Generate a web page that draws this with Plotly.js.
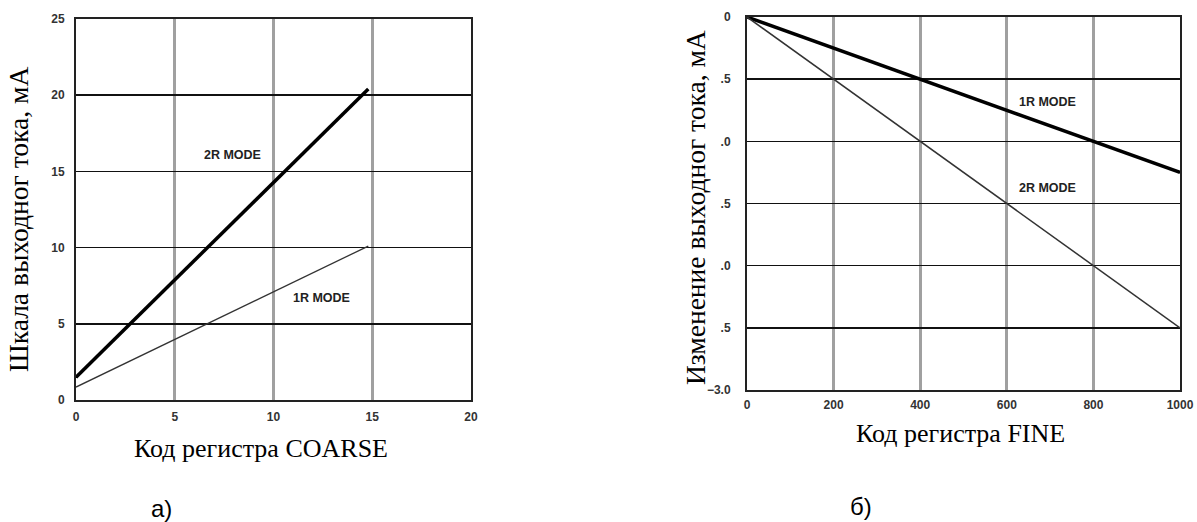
<!DOCTYPE html>
<html>
<head>
<meta charset="utf-8">
<script src="https://cdn.plot.ly/plotly-3.0.1.min.js"></script>
<style>html,body{margin:0;padding:0;background:#fff;}#chart{width:1197px;height:522px;}</style>
</head>
<body>
<div id="chart"></div>
<script>
// Left chart (а): COARSE register code vs output current full-scale, mA
const coarseX = [0, 14.8];
const coarse2R = [1.5, 20.4];
const coarse1R = [0.85, 10.1];
const coarseXTicks = [0, 5, 10, 15, 20];
const coarseYTicks = [0, 5, 10, 15, 20, 25];

// Right chart (б): FINE register code vs change of output current, mA
const fineX = [0, 1000];
const fine1R = [0, -1.25];
const fine2R = [0, -2.5];
const fineXTicks = [0, 200, 400, 600, 800, 1000];
const fineYTicks = [0, -0.5, -1.0, -1.5, -2.0, -2.5, -3.0];
const fineYTickText = ["0", ".5", ".0", ".5", ".0", ".5", "\u22123.0"];

const W = 1197, H = 522;
const px = v => v / W;
const py = v => 1 - v / H;

const tickFont = {family: "Liberation Sans, Arial, sans-serif", size: 12, color: "#333", weight: 700};
const titleFont = {family: "Liberation Serif, Times New Roman, serif", size: 26, color: "#000"};
const yTitleFont = {family: "Liberation Serif, Times New Roman, serif", size: 27.5, color: "#000"};
const modeFont = {family: "Liberation Sans, Arial, sans-serif", size: 12.5, color: "#222", weight: 700};

const traces = [
  {x: coarseX, y: coarse2R, xaxis: "x", yaxis: "y", mode: "lines", line: {color: "#000", width: 3.5}, name: "2R MODE"},
  {x: coarseX, y: coarse1R, xaxis: "x", yaxis: "y", mode: "lines", line: {color: "#333", width: 1.3}, name: "1R MODE"},
  {x: fineX, y: fine1R, xaxis: "x2", yaxis: "y2", mode: "lines", line: {color: "#000", width: 3.5}, name: "1R MODE"},
  {x: fineX, y: fine2R, xaxis: "x2", yaxis: "y2", mode: "lines", line: {color: "#333", width: 1.5}, name: "2R MODE"}
];

const xCommon = {
  showgrid: true, gridcolor: "#a0a0a0", gridwidth: 3,
  showline: true, mirror: true, linecolor: "#222", linewidth: 2,
  zeroline: false, ticks: "", tickfont: tickFont, fixedrange: true
};
const yCommon = {
  showgrid: true, gridcolor: "#111", gridwidth: 1.6,
  showline: true, mirror: true, linecolor: "#222", linewidth: 2,
  zeroline: false, ticks: "", tickfont: tickFont, fixedrange: true
};

const layout = {
  width: W, height: H,
  margin: {l: 0, r: 0, t: 0, b: 0},
  paper_bgcolor: "#fff", plot_bgcolor: "#fff",
  showlegend: false,
  xaxis: Object.assign({}, xCommon, {
    domain: [px(76), px(471)], range: [0, 20],
    tickmode: "array", tickvals: coarseXTicks, anchor: "y", ticklabelstandoff: 5
  }),
  yaxis: Object.assign({}, yCommon, {
    domain: [py(400), py(19)], range: [0, 25],
    tickmode: "array", tickvals: coarseYTicks, anchor: "x", ticklabelstandoff: 7
  }),
  xaxis2: Object.assign({}, xCommon, {
    domain: [px(747), px(1180)], range: [0, 1000],
    tickmode: "array", tickvals: fineXTicks, anchor: "y2", ticklabelstandoff: 3
  }),
  yaxis2: Object.assign({}, yCommon, {
    domain: [py(390), py(17)], range: [-3, 0],
    tickmode: "array", tickvals: fineYTicks, ticktext: fineYTickText, anchor: "x2", ticklabelstandoff: 12
  }),
  annotations: [
    {text: "Шкала выходног тока, мА", xref: "paper", yref: "paper", x: px(18), y: py(220), textangle: -90,
     showarrow: false, xanchor: "center", yanchor: "middle", font: yTitleFont},
    {text: "Код регистра COARSE", xref: "paper", yref: "paper", x: px(261), y: py(448),
     showarrow: false, xanchor: "center", yanchor: "middle", font: titleFont},
    {text: "Изменение выходног тока, мА", xref: "paper", yref: "paper", x: px(695), y: py(208), textangle: -90,
     showarrow: false, xanchor: "center", yanchor: "middle", font: yTitleFont},
    {text: "Код регистра FINE", xref: "paper", yref: "paper", x: px(960), y: py(433),
     showarrow: false, xanchor: "center", yanchor: "middle", font: titleFont},
    {text: "а)", xref: "paper", yref: "paper", x: px(161), y: py(508),
     showarrow: false, xanchor: "center", yanchor: "middle",
     font: {family: "Liberation Sans, Arial, sans-serif", size: 24, color: "#000"}},
    {text: "б)", xref: "paper", yref: "paper", x: px(861), y: py(506),
     showarrow: false, xanchor: "center", yanchor: "middle",
     font: {family: "Liberation Sans, Arial, sans-serif", size: 24, color: "#000"}},
    {text: "2R MODE", xref: "x", yref: "y", x: 7.9, y: 16.1, showarrow: false, font: modeFont},
    {text: "1R MODE", xref: "x", yref: "y", x: 12.45, y: 6.7, showarrow: false, font: modeFont},
    {text: "1R MODE", xref: "x2", yref: "y2", x: 693, y: -0.684, showarrow: false, font: modeFont},
    {text: "2R MODE", xref: "x2", yref: "y2", x: 693, y: -1.376, showarrow: false, font: modeFont}
  ]
};

Plotly.newPlot("chart", traces, layout, {staticPlot: true, displayModeBar: false});
</script>
</body>
</html>
